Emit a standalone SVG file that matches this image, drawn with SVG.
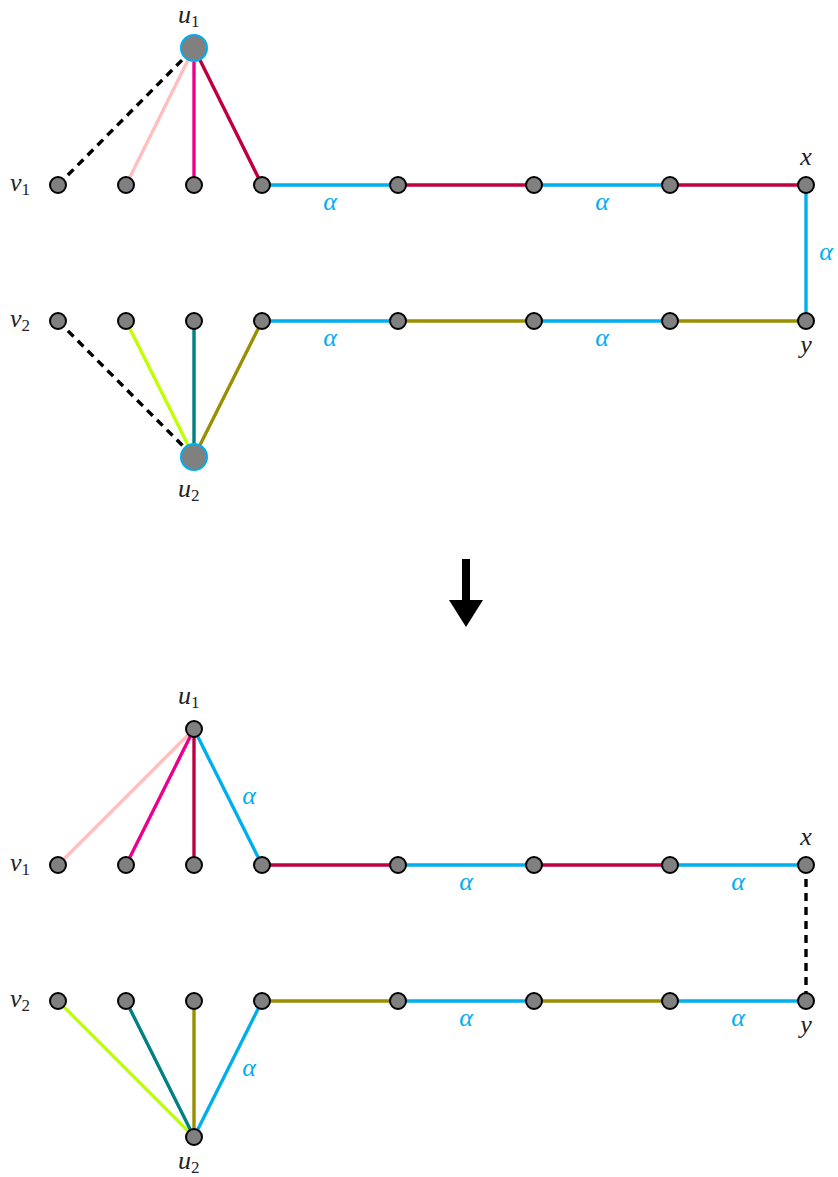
<svg xmlns="http://www.w3.org/2000/svg" width="838" height="1177" viewBox="0 0 838 1177">
<style>
.e{stroke-width:3.4;fill:none;stroke-linecap:butt}
.d{stroke:#000;stroke-dasharray:8,6}
.c{stroke:#00AEEF}.p{stroke:#BF0040}.m{stroke:#EC008C}.k{stroke:#FFBFBF}
.o{stroke:#998F00}.l{stroke:#BFFF00}.t{stroke:#008080}
.n{fill:#808080;stroke:#000;stroke-width:2}
.b{fill:#808080;stroke:#00AEEF;stroke-width:2}
.s{font-style:normal;font-size:17px}
.a{fill:#00AEEF;text-anchor:middle}
.lb{text-anchor:middle}
</style>
<rect width="838" height="1177" fill="#fff"/>
<g id="connectors">
<line class="e d" x1="58" y1="185" x2="194" y2="48"/>
<line class="e k" x1="126" y1="185" x2="194" y2="48"/>
<line class="e m" x1="194" y1="185" x2="194" y2="48"/>
<line class="e p" x1="262" y1="185" x2="194" y2="48"/>
<line class="e c" x1="262" y1="185" x2="398" y2="185"/>
<line class="e p" x1="398" y1="185" x2="534" y2="185"/>
<line class="e c" x1="534" y1="185" x2="670" y2="185"/>
<line class="e p" x1="670" y1="185" x2="806" y2="185"/>
<line class="e c" x1="806" y1="185" x2="806" y2="321"/>
<line class="e d" x1="58" y1="321" x2="194" y2="457"/>
<line class="e l" x1="126" y1="321" x2="194" y2="457"/>
<line class="e t" x1="194" y1="321" x2="194" y2="457"/>
<line class="e o" x1="262" y1="321" x2="194" y2="457"/>
<line class="e c" x1="262" y1="321" x2="398" y2="321"/>
<line class="e o" x1="398" y1="321" x2="534" y2="321"/>
<line class="e c" x1="534" y1="321" x2="670" y2="321"/>
<line class="e o" x1="670" y1="321" x2="806" y2="321"/>

<line class="e k" x1="58" y1="865" x2="194" y2="729"/>
<line class="e m" x1="126" y1="865" x2="194" y2="729"/>
<line class="e p" x1="194" y1="865" x2="194" y2="729"/>
<line class="e c" x1="262" y1="865" x2="194" y2="729"/>
<line class="e p" x1="262" y1="865" x2="398" y2="865"/>
<line class="e c" x1="398" y1="865" x2="534" y2="865"/>
<line class="e p" x1="534" y1="865" x2="670" y2="865"/>
<line class="e c" x1="670" y1="865" x2="806" y2="865"/>
<line class="e d" x1="806" y1="865" x2="806" y2="1001"/>
<line class="e l" x1="58" y1="1001" x2="194" y2="1137"/>
<line class="e t" x1="126" y1="1001" x2="194" y2="1137"/>
<line class="e o" x1="194" y1="1001" x2="194" y2="1137"/>
<line class="e c" x1="262" y1="1001" x2="194" y2="1137"/>
<line class="e o" x1="262" y1="1001" x2="398" y2="1001"/>
<line class="e c" x1="398" y1="1001" x2="534" y2="1001"/>
<line class="e o" x1="534" y1="1001" x2="670" y2="1001"/>
<line class="e c" x1="670" y1="1001" x2="806" y2="1001"/>
</g>
<g id="arrow">
<rect x="462" y="559" width="8" height="43" fill="#000"/>
<polygon points="449,600 483,600 466,627" fill="#000"/>
</g>
<g id="nodes-top">
<g id="t_u1"><circle class="b" cx="194" cy="48" r="13"/></g>
<g id="t_u2"><circle class="b" cx="194" cy="457" r="13"/></g>
<g id="t_r1">
<circle class="n" cx="58" cy="185" r="8"/><circle class="n" cx="126" cy="185" r="8"/>
<circle class="n" cx="194" cy="185" r="8"/><circle class="n" cx="262" cy="185" r="8"/>
<circle class="n" cx="398" cy="185" r="8"/><circle class="n" cx="534" cy="185" r="8"/>
<circle class="n" cx="670" cy="185" r="8"/><circle class="n" cx="806" cy="185" r="8"/>
</g>
<g id="t_r2">
<circle class="n" cx="58" cy="321" r="8"/><circle class="n" cx="126" cy="321" r="8"/>
<circle class="n" cx="194" cy="321" r="8"/><circle class="n" cx="262" cy="321" r="8"/>
<circle class="n" cx="398" cy="321" r="8"/><circle class="n" cx="534" cy="321" r="8"/>
<circle class="n" cx="670" cy="321" r="8"/><circle class="n" cx="806" cy="321" r="8"/>
</g>
</g>
<g id="nodes-bottom">
<g id="b_u1"><circle class="n" cx="194" cy="729" r="8"/></g>
<g id="b_u2"><circle class="n" cx="194" cy="1137" r="8"/></g>
<g id="b_r1">
<circle class="n" cx="58" cy="865" r="8"/><circle class="n" cx="126" cy="865" r="8"/>
<circle class="n" cx="194" cy="865" r="8"/><circle class="n" cx="262" cy="865" r="8"/>
<circle class="n" cx="398" cy="865" r="8"/><circle class="n" cx="534" cy="865" r="8"/>
<circle class="n" cx="670" cy="865" r="8"/><circle class="n" cx="806" cy="865" r="8"/>
</g>
<g id="b_r2">
<circle class="n" cx="58" cy="1001" r="8"/><circle class="n" cx="126" cy="1001" r="8"/>
<circle class="n" cx="194" cy="1001" r="8"/><circle class="n" cx="262" cy="1001" r="8"/>
<circle class="n" cx="398" cy="1001" r="8"/><circle class="n" cx="534" cy="1001" r="8"/>
<circle class="n" cx="670" cy="1001" r="8"/><circle class="n" cx="806" cy="1001" r="8"/>
</g>
</g>
<g id="labels" style="font-family:'Liberation Serif','DejaVu Serif',serif;font-size:26px;font-style:italic;fill:#222">
<text x="178" y="23">u<tspan class="s" dy="4">1</tspan></text>
<text x="10" y="191">v<tspan class="s" dy="4">1</tspan></text>
<text x="10" y="327">v<tspan class="s" dy="4">2</tspan></text>
<text x="178" y="497">u<tspan class="s" dy="4">2</tspan></text>
<text class="lb" x="806" y="165">x</text>
<text class="lb" x="806" y="353">y</text>
<text class="a" x="330" y="210">α</text>
<text class="a" x="602" y="210">α</text>
<text class="a" x="826" y="260">α</text>
<text class="a" x="330" y="346">α</text>
<text class="a" x="602" y="346">α</text>

<text x="178" y="704">u<tspan class="s" dy="4">1</tspan></text>
<text x="10" y="871">v<tspan class="s" dy="4">1</tspan></text>
<text x="10" y="1007">v<tspan class="s" dy="4">2</tspan></text>
<text x="178" y="1169">u<tspan class="s" dy="4">2</tspan></text>
<text class="lb" x="806" y="845">x</text>
<text class="lb" x="806" y="1033">y</text>
<text class="a" x="249" y="804">α</text>
<text class="a" x="466" y="890">α</text>
<text class="a" x="738" y="890">α</text>
<text class="a" x="466" y="1026">α</text>
<text class="a" x="738" y="1026">α</text>
<text class="a" x="249" y="1076">α</text>
</g>
</svg>
